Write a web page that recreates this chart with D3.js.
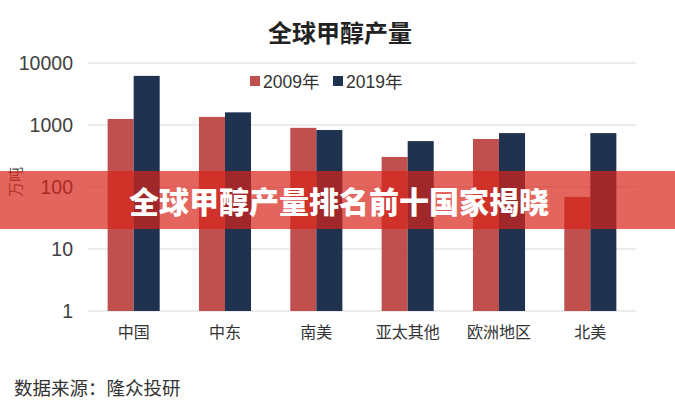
<!DOCTYPE html>
<html><head><meta charset="utf-8">
<script src="https://cdn.jsdelivr.net/npm/d3@7"></script>
<style>body{margin:0;background:#fff}svg{display:block}</style>
</head><body>
<svg id="c" width="675" height="400"></svg>
<script>
const categories = ["中国","中东","南美","亚太其他","欧洲地区","北美"];
const series2009 = [1250, 1350, 900, 305, 595, 69];
const series2019 = [6200, 1600, 830, 550, 740, 740];
const seriesNames = ["2009年","2019年"];
const tickValues = [1, 10, 100, 1000, 10000];

const colors = ["#c0504d","#1f3250"];
const svg = d3.select("#c");
const M = {left:88, right:636, top:63, bottom:311};

const x = d3.scaleBand().domain(categories).range([M.left, M.right]).paddingInner(0.43).paddingOuter(0.215);
const x1 = d3.scaleBand().domain(seriesNames).range([0, x.bandwidth()]);
const y = d3.scaleLog().domain([1, 10000]).range([M.bottom, M.top]);

// gridlines
svg.append("g").selectAll("line").data(tickValues).join("line")
  .attr("x1", M.left).attr("x2", M.right)
  .attr("y1", d=>y(d)).attr("y2", d=>y(d))
  .attr("stroke", "#d9d9d9").attr("stroke-width", 1.2);

// y axis labels
const yAxis = d3.axisLeft(y).tickValues(tickValues).tickFormat(d3.format("d")).tickSize(0).tickPadding(15);
const ga = svg.append("g").attr("transform", `translate(${M.left},0)`).call(yAxis);
ga.select(".domain").remove();
ga.selectAll("text").attr("font-family","Liberation Sans, Arial, sans-serif").attr("font-size",19.5).attr("fill","#404040");

// bars
const data = categories.map((c,i)=>({c, vals:[series2009[i], series2019[i]]}));
const g = svg.append("g").selectAll("g").data(data).join("g").attr("transform", d=>`translate(${x(d.c)},0)`);
g.selectAll("rect").data(d=>d.vals.map((v,j)=>({v, s:seriesNames[j], j}))).join("rect")
  .attr("x", d=>x1(d.s)).attr("width", x1.bandwidth())
  .attr("y", d=>y(d.v)).attr("height", d=>y(1)-y(d.v))
  .attr("fill", d=>colors[d.j]);

// category labels
const xAxis = d3.axisBottom(x).tickSize(0).tickPadding(16);
const gx = svg.append("g").attr("transform", `translate(0,${M.bottom})`).call(xAxis);
gx.select(".domain").remove();
gx.selectAll("text").attr("font-family","Noto Sans CJK SC, sans-serif").attr("font-size",16).attr("fill","#333");

// title
svg.append("text").attr("x", 340).attr("y", 42).attr("text-anchor","middle")
  .attr("font-family","Noto Sans CJK SC, sans-serif").attr("font-weight",700).attr("font-size",24).attr("fill","#222")
  .text("全球甲醇产量");

// legend
const leg = svg.append("g");
const legX = [250, 333];
seriesNames.forEach((s,i)=>{
  leg.append("rect").attr("x", legX[i]).attr("y", 76).attr("width", 10).attr("height", 10).attr("fill", colors[i]);
  leg.append("text").attr("x", legX[i]+13).attr("y", 88).attr("font-family","Liberation Sans, Arial, Noto Sans CJK SC, sans-serif")
    .attr("font-size",17.5).attr("fill","#333").text(s);
});

// y unit label
svg.append("text").attr("transform","translate(21,182) rotate(-90)").attr("text-anchor","middle")
  .attr("font-family","Noto Sans CJK SC, sans-serif").attr("font-size",15).attr("fill","#555").text("万吨");

// source
svg.append("text").attr("x", 14).attr("y", 395)
  .attr("font-family","Noto Sans CJK SC, sans-serif").attr("font-size",18.5).attr("fill","#333")
  .text("数据来源：隆众投研");

// banner overlay
svg.append("rect").attr("x",0).attr("y",171).attr("width",675).attr("height",58)
  .attr("fill","rgb(215,35,25)").attr("fill-opacity",0.7);
svg.append("text").attr("x", 339).attr("y", 213).attr("text-anchor","middle")
  .attr("font-family","Noto Sans CJK SC, sans-serif").attr("font-weight",900).attr("font-size",30).attr("fill","#fff")
  .text("全球甲醇产量排名前十国家揭晓");
</script>
</body></html>
